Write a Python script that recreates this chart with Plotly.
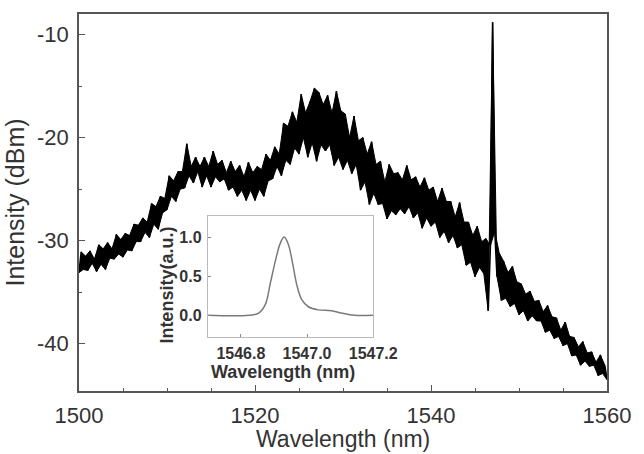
import plotly.graph_objects as go

# ---- main spectrum (0.25 nm sampling) ----
wl_start = 1500.0
wl_step = 0.25
intensity_dbm = [
    -33.1, -31.1, -32.8, -31.5, -32.9, -31.0, -32.2, -31.8, -33.0, -30.4,
    -32.3, -30.8, -32.8, -30.2, -31.7, -30.8, -31.8, -29.4, -31.3, -29.9,
    -31.6, -29.3, -30.9, -29.5, -31.0, -28.4, -30.1, -28.5, -30.1, -27.8,
    -29.2, -28.2, -29.7, -26.4, -28.4, -26.7, -28.9, -25.7, -27.3, -25.9,
    -27.0, -23.7, -25.7, -24.2, -26.2, -23.3, -25.0, -23.3, -24.9, -20.6,
    -23.7, -22.8, -24.4, -21.9, -23.3, -22.8, -24.8, -21.9, -23.7, -22.8,
    -24.8, -21.3, -23.8, -22.6, -24.3, -22.2, -24.0, -23.4, -25.1, -22.3,
    -24.8, -23.3, -25.7, -22.7, -25.1, -23.8, -26.1, -22.4, -25.1, -23.4,
    -26.1, -22.8, -25.0, -23.1, -25.7, -21.6, -24.2, -22.2, -24.0, -20.9,
    -22.8, -21.6, -23.7, -18.6, -22.2, -18.9, -22.6, -17.5, -21.0, -18.5,
    -21.6, -15.8, -20.0, -17.6, -21.9, -16.5, -20.5, -15.2, -22.3, -15.6,
    -20.7, -16.8, -21.3, -15.9, -20.7, -17.6, -22.7, -15.5, -21.9, -17.4,
    -23.1, -17.7, -22.2, -20.0, -23.5, -17.9, -22.6, -20.3, -25.1, -20.0,
    -24.3, -21.6, -26.5, -20.4, -25.4, -22.6, -26.5, -22.3, -26.4, -24.3,
    -27.9, -22.6, -27.1, -23.5, -27.5, -23.4, -26.9, -24.1, -27.4, -22.7,
    -26.7, -24.1, -27.8, -23.8, -27.3, -24.8, -28.8, -23.9, -27.8, -25.1,
    -28.6, -24.8, -28.2, -26.2, -29.7, -24.9, -29.1, -26.2, -30.2, -26.2,
    -29.5, -27.7, -30.7, -26.3, -30.4, -28.2, -32.4, -28.2, -32.1, -29.5,
    -33.5, -28.6, -32.6, -30.1, -33.2, -29.8, -36.8, -30.5, -8.8, -29.1,
    -33.5, -31.2, -35.8, -32.0, -35.6, -33.1, -36.4, -32.5, -36.1, -34.0,
    -37.2, -34.2, -36.8, -35.2, -37.8, -34.9, -37.3, -35.9, -37.8, -35.8,
    -37.8, -36.9, -38.9, -36.3, -38.7, -37.4, -39.5, -37.5, -39.3, -38.7,
    -40.2, -37.9, -40.0, -39.3, -41.2, -39.4, -41.1, -40.3, -42.1, -39.8,
    -41.7, -40.9, -42.2, -40.8, -42.1, -41.8, -43.1, -41.1, -42.9, -42.1,
    -43.5,
]
wavelength_nm = [wl_start + wl_step * i for i in range(len(intensity_dbm))]

# ---- inset: laser line ----
inset_wl = [1546.70, 1546.824, 1546.854, 1546.874, 1546.889, 1546.904, 1546.919,
            1546.931, 1546.944, 1546.957, 1546.969, 1546.984, 1547.004, 1547.034,
            1547.074, 1547.104, 1547.144, 1547.20]
inset_int = [0.0, 0.0, 0.03, 0.14, 0.41, 0.69, 0.92,
             1.0, 0.90, 0.65, 0.39, 0.20, 0.11, 0.07,
             0.06, 0.03, 0.0, 0.0]

main_xticks = [1500, 1520, 1540, 1560]
main_xticklabels = ["1500", "1520", "1540", "1560"]
main_yticks = [-40, -30, -20, -10]
main_yticklabels = ["-40", "-30", "-20", "-10"]
inset_xticks = [1546.8, 1547.0, 1547.2]
inset_xticklabels = ["1546.8", "1547.0", "1547.2"]
inset_yticks = [0.0, 0.5, 1.0]
inset_yticklabels = ["0.0", "0.5", "1.0"]

FONT = "Liberation Sans, Arial, sans-serif"
TXT = "#333333"
AX = "#555555"

fig = go.Figure()
# solid band between the alternating samples (same data), then the raw trace
fig.add_trace(go.Scatter(x=wavelength_nm[0::2], y=intensity_dbm[0::2], mode="lines",
                         line=dict(color="black", width=1.0),
                         xaxis="x", yaxis="y", showlegend=False, hoverinfo="skip"))
fig.add_trace(go.Scatter(x=wavelength_nm[1::2], y=intensity_dbm[1::2], mode="lines",
                         line=dict(color="black", width=1.0), fill="tonexty",
                         fillcolor="black",
                         xaxis="x", yaxis="y", showlegend=False, hoverinfo="skip"))
fig.add_trace(go.Scatter(x=wavelength_nm, y=intensity_dbm, mode="lines",
                         line=dict(color="black", width=1.6),
                         xaxis="x", yaxis="y", showlegend=False))
fig.add_trace(go.Scatter(x=inset_wl, y=inset_int, mode="lines",
                         line=dict(color="#7a7a7a", width=1.5, shape="spline"),
                         xaxis="x2", yaxis="y2", showlegend=False))

fig.update_layout(
    width=644, height=454,
    margin=dict(l=79, r=32, t=12, b=63),
    paper_bgcolor="white", plot_bgcolor="white",
    font=dict(family=FONT, color=TXT),
    xaxis=dict(domain=[0, 1], range=[1500, 1560], tickvals=main_xticks,
               ticktext=main_xticklabels,
               ticks="inside", ticklen=6, tickwidth=1.2, tickcolor=AX,
               minor=dict(dtick=5, tick0=1500, ticks="inside", ticklen=3, tickcolor=AX),
               showline=True, linecolor=AX, linewidth=1.5, mirror=True,
               showgrid=False, zeroline=False, ticklabelstandoff=4,
               tickfont=dict(size=22, color=TXT, family=FONT)),
    yaxis=dict(domain=[0, 1], range=[-44.6, -8.0], tickvals=main_yticks,
               ticktext=main_yticklabels,
               ticks="inside", ticklen=6, tickwidth=1.2, tickcolor=AX,
               minor=dict(dtick=5, tick0=-40, ticks="inside", ticklen=3, tickcolor=AX),
               showline=True, linecolor=AX, linewidth=1.5, mirror=True,
               showgrid=False, zeroline=False, ticklabelstandoff=4,
               tickfont=dict(size=22, color=TXT, family=FONT)),
    xaxis2=dict(domain=[0.2439, 0.5572], anchor="y2", range=[1546.7, 1547.2],
                tickvals=inset_xticks, ticktext=inset_xticklabels,
                ticks="inside", ticklen=3, tickcolor="#888888",
                showline=True, linecolor="#bbbbbb", linewidth=1, mirror=True,
                showgrid=False, zeroline=False, ticklabelstandoff=2,
                tickfont=dict(size=16, color=TXT, family=FONT, weight="bold")),
    yaxis2=dict(domain=[0.1425, 0.4644], anchor="x2", range=[-0.28, 1.27],
                tickvals=inset_yticks, ticktext=inset_yticklabels,
                ticks="inside", ticklen=3, tickcolor="#888888",
                showline=True, linecolor="#bbbbbb", linewidth=1, mirror=True,
                showgrid=False, zeroline=False, ticklabelstandoff=2,
                tickfont=dict(size=16, color=TXT, family=FONT, weight="bold")),
)

fig.add_annotation(text="Wavelength (nm)", xref="paper", yref="paper",
                   x=0.5, y=-0.168, xanchor="center", yanchor="bottom",
                   showarrow=False, font=dict(size=23, color=TXT, family=FONT))
fig.add_annotation(text="Intensity (dBm)", xref="paper", yref="paper",
                   x=-0.123, y=0.5, xanchor="center", yanchor="middle", textangle=-90,
                   showarrow=False, font=dict(size=25, color=TXT, family=FONT))
fig.add_annotation(text="<b>Wavelength (nm)</b>", xref="paper", yref="paper",
                   x=0.3865, y=0.05, xanchor="center", yanchor="middle",
                   showarrow=False, font=dict(size=18, color=TXT, family=FONT))
fig.add_annotation(text="<b>Intensity(a.u.)</b>", xref="paper", yref="paper",
                   x=0.167, y=0.28, xanchor="center", yanchor="middle", textangle=-90,
                   showarrow=False, font=dict(size=18, color=TXT, family=FONT))

fig.write_html("out.html")
